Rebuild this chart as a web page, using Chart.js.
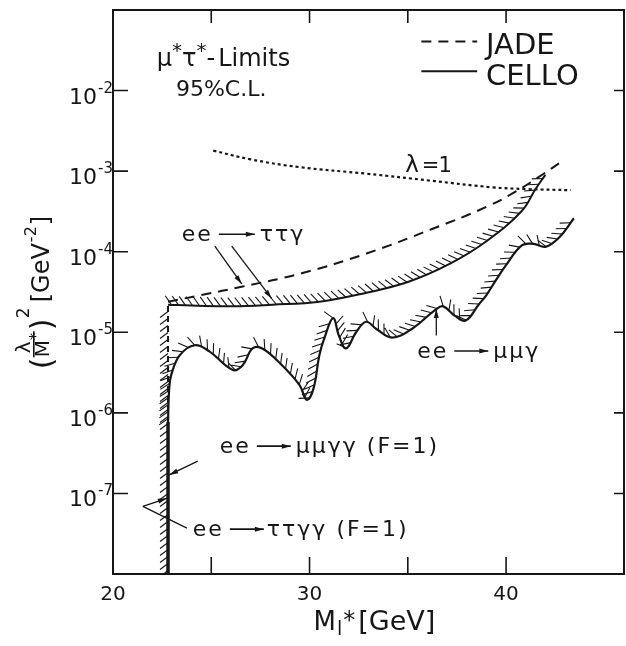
<!DOCTYPE html>
<html>
<head>
<meta charset="utf-8">
<script src="https://cdn.jsdelivr.net/npm/chart.js@4.4.1/dist/chart.umd.min.js"></script>
<style>
  body { margin: 0; background: #fff; }
  #wrap { width: 626px; height: 646px; position: relative; }
</style>
</head>
<body>
<div id="wrap"><canvas id="chart"></canvas></div>
<script>
// axis ticks
const massTicks = [20, 25, 30, 35, 40];
const massLabels = [20, 30, 40];
const topTicks = [25, 30, 35, 40];
const decadeExps = [-7, -6, -5, -4, -3, -2];

// lambda = 1 curve (dotted)
const lambdaMass = [25.1, 27.0, 29.5, 32.9, 36.2, 39.3, 41.0, 43.3];
const lambdaLimit = [1.8e-3, 1.4e-3, 1.12e-3, 9.3e-4, 7.6e-4, 6.3e-4, 6.0e-4, 5.8e-4];

// JADE ee -> tau tau gamma (dashed)
const jadeMass = [22.8, 24.5, 26.6, 29.6, 32.9, 36.2, 39.0, 40.5, 41.8, 42.8];
const jadeLimit = [2.4e-5, 2.9e-5, 3.7e-5, 5.4e-5, 9.5e-5, 1.9e-4, 3.6e-4, 5.6e-4, 8.9e-4, 1.3e-3];

// CELLO ee -> tau tau gamma (solid)
const celloTauMass = [22.8, 24.0, 26.1, 28.1, 30.5, 32.9, 35.0, 37.1, 39.0, 40.8, 41.5, 42.0];
const celloTauLimit = [2.2e-5, 2.15e-5, 2.1e-5, 2.2e-5, 2.4e-5, 3.1e-5, 4.2e-5, 7.0e-5, 1.35e-4, 3.2e-4, 6.0e-4, 9.0e-4];

// CELLO ee -> mu mu gamma (solid)
const celloMuMass = [22.8, 22.86, 22.97, 23.4, 24.16, 24.9, 26.1, 26.6, 27.1, 27.6, 28.6, 29.5, 29.86, 30.2,
  30.5, 30.76, 31.2, 31.5, 31.86, 32.37, 32.88, 33.4, 34.2, 35.2, 36.4, 36.8, 37.4, 37.95, 38.6, 39.0,
  39.5, 40.0, 40.8, 41.4, 42.0, 42.7, 43.45];
const celloMuLimit = [7.7e-7, 2e-6, 3e-6, 5.2e-6, 6.9e-6, 5.8e-6, 3.4e-6, 3.9e-6, 6.3e-6, 6.3e-6, 3.9e-6, 2.2e-6, 1.45e-6, 2e-6,
  5.2e-6, 8.5e-6, 1.5e-5, 9e-6, 6.3e-6, 1e-5, 1.35e-5, 1.1e-5, 8.6e-6, 1.1e-5, 1.9e-5, 2.1e-5, 1.6e-5, 1.4e-5, 2.2e-5, 2.9e-5,
  4.5e-5, 6.8e-5, 1.2e-4, 1.25e-4, 1.15e-4, 1.5e-4, 2.6e-4];

// F=1 limits (vertical edge)
const edgeMass = [22.8, 22.8, 22.8];
const edgeLimit = [1e-8, 7.7e-7, 2.2e-5];

const FONT = '"DejaVu Sans"';
const INK = '#161616';

const pts = (xs, ys) => xs.map((x, i) => ({ x, y: ys[i] }));

// hatch marks along the excluded side of a curve
const hatchPlugin = {
  id: 'hatch',
  afterDatasetsDraw(chart) {
    const ctx = chart.ctx, area = chart.chartArea;
    ctx.save();
    ctx.beginPath();
    ctx.rect(area.left, area.top, area.right - area.left, area.bottom - area.top);
    ctx.clip();
    chart.data.datasets.forEach((ds, i) => {
      if (!ds.hatch) return;
      const p = chart.getDatasetMeta(i).data;
      const poly = [];
      for (let k = 0; k < p.length - 1; k++) {
        const a = p[k], b = p[k + 1];
        const c1x = a.cp2x ?? a.x, c1y = a.cp2y ?? a.y;
        const c2x = b.cp1x ?? b.x, c2y = b.cp1y ?? b.y;
        for (let s = 0; s < 20; s++) {
          const t = s / 20, u = 1 - t;
          poly.push([
            u * u * u * a.x + 3 * u * u * t * c1x + 3 * u * t * t * c2x + t * t * t * b.x,
            u * u * u * a.y + 3 * u * u * t * c1y + 3 * u * t * t * c2y + t * t * t * b.y
          ]);
        }
      }
      poly.push([p[p.length - 1].x, p[p.length - 1].y]);
      const { spacing, length } = ds.hatch;
      ctx.beginPath();
      let next = spacing / 2, acc = 0;
      for (let k = 0; k < poly.length - 1; k++) {
        const [x0, y0] = poly[k], [x1, y1] = poly[k + 1];
        const d = Math.hypot(x1 - x0, y1 - y0);
        if (!d) continue;
        const tx = (x1 - x0) / d, ty = (y1 - y0) / d;
        const nx = ty, ny = -tx;
        while (next <= acc + d) {
          const f = (next - acc) / d;
          const px = x0 + (x1 - x0) * f, py = y0 + (y1 - y0) * f;
          ctx.moveTo(px, py);
          ctx.lineTo(px + length * (0.8 * nx - 0.6 * tx), py + length * (0.8 * ny - 0.6 * ty));
          next += spacing;
        }
        acc += d;
      }
      ctx.strokeStyle = INK;
      ctx.lineWidth = 1.1;
      ctx.stroke();
    });
    ctx.restore();
  }
};

function arrowHead(ctx, x0, y0, x1, y1, size) {
  const a = Math.atan2(y1 - y0, x1 - x0);
  ctx.beginPath();
  ctx.moveTo(x1, y1);
  ctx.lineTo(x1 - size * Math.cos(a) + 2.5 * Math.sin(a), y1 - size * Math.sin(a) - 2.5 * Math.cos(a));
  ctx.lineTo(x1 - size * Math.cos(a) - 2.5 * Math.sin(a), y1 - size * Math.sin(a) + 2.5 * Math.cos(a));
  ctx.closePath();
  ctx.fill();
}

function line(ctx, a, b, head) {
  ctx.beginPath();
  ctx.moveTo(a[0], a[1]);
  ctx.lineTo(b[0], b[1]);
  ctx.stroke();
  if (head) arrowHead(ctx, a[0], a[1], b[0], b[1], 9);
}

function drawParts(ctx, x, y, parts) {
  for (const p of parts) {
    if (p.arrow) {
      const ay = y - 7;
      line(ctx, [x, ay], [x + p.arrow, ay], true);
      x += p.arrow + (p.gap || 0);
      continue;
    }
    ctx.font = `${p.size || 22}px ${FONT}`;
    ctx.letterSpacing = (p.ls ?? 2) + 'px';
    ctx.fillText(p.t, x, y + (p.dy || 0));
    x += ctx.measureText(p.t).width + (p.gap || 0);
  }
  ctx.letterSpacing = '0px';
}

// annotation anchors in (mass, log10 value)
const textNotes = [
  { at: [22.23, -1.69], parts: [{ t: 'μ', size: 24, ls: 0 }, { t: '*', size: 20, dy: -9, ls: 0 }, { t: 'τ', size: 24, ls: 0 },
    { t: '*', size: 20, dy: -9, ls: 0 }, { t: '-', size: 24, ls: 0, gap: 3 }, { t: 'Limits', size: 24, ls: 0 }] },
  { at: [23.2, -2.07], parts: [{ t: '95%C.L.', size: 22, ls: 0 }] },
  { at: [34.87, -3.01], parts: [{ t: 'λ', size: 23, ls: 0, gap: 3 }, { t: '=1', size: 21, ls: -1 }] },
  { at: [23.5, -3.87], parts: [{ t: 'ee', gap: 6 }, { arrow: 36, gap: 5 }, { t: 'ττγ' }] },
  { at: [35.48, -5.32], parts: [{ t: 'ee', gap: 6 }, { arrow: 34, gap: 5 }, { t: 'μμγ' }] },
  { at: [25.43, -6.50], parts: [{ t: 'ee', gap: 6 }, { arrow: 34, gap: 5 }, { t: 'μμγγ (F=1)' }] },
  { at: [24.06, -7.53], parts: [{ t: 'ee', gap: 6 }, { arrow: 34, gap: 3 }, { t: 'ττγγ (F=1)' }] }
];
const pointerNotes = [
  { from: [25.18, -3.93], to: [26.55, -4.40], head: true },
  { from: [26.04, -3.93], to: [28.07, -4.58], head: true },
  { from: [36.45, -5.04], to: [36.45, -4.71], head: true },
  { from: [24.31, -6.60], to: [22.86, -6.77], head: true },
  { from: [23.76, -7.43], to: [21.52, -7.16], head: false },
  { from: [21.52, -7.16], to: [22.74, -7.06], head: true }
];
const legendNotes = [
  { label: 'JADE', series: 1, line: [35.69, 38.53, -1.39], text: [38.98, -1.54] },
  { label: 'CELLO', series: 2, line: [35.69, 38.53, -1.76], text: [38.98, -1.93] }
];
// inward tick mark length for each scale
const tickLen = { x: 17, x2: 13, y: 15, y2: 10 };

const notesPlugin = {
  id: 'notes',
  afterDraw(chart) {
    const ctx = chart.ctx, xs = chart.scales.x, ys = chart.scales.y, area = chart.chartArea;
    const P = (m, e) => [xs.getPixelForValue(m), ys.getPixelForValue(Math.pow(10, e))];
    ctx.save();
    ctx.fillStyle = INK;
    ctx.strokeStyle = INK;
    ctx.textBaseline = 'alphabetic';
    ctx.textAlign = 'left';

    // inward ticks on all four sides
    ctx.lineWidth = 1.6;
    ctx.beginPath();
    Object.keys(tickLen).forEach(id => {
      const s = chart.scales[id], L = tickLen[id];
      s.ticks.forEach(t => {
        const v = s.getPixelForValue(t.value);
        if (id === 'x') { ctx.moveTo(v, area.bottom); ctx.lineTo(v, area.bottom - L); }
        if (id === 'x2') { ctx.moveTo(v, area.top); ctx.lineTo(v, area.top + L); }
        if (id === 'y') { ctx.moveTo(area.left, v); ctx.lineTo(area.left + L, v); }
        if (id === 'y2') { ctx.moveTo(area.right, v); ctx.lineTo(area.right - L, v); }
      });
    });
    ctx.stroke();

    textNotes.forEach(n => { const [x, y] = P(n.at[0], n.at[1]); drawParts(ctx, x, y, n.parts); });
    ctx.lineWidth = 1.3;
    pointerNotes.forEach(n => line(ctx, P(n.from[0], n.from[1]), P(n.to[0], n.to[1]), n.head));

    legendNotes.forEach(n => {
      const ds = chart.data.datasets[n.series];
      const a = P(n.line[0], n.line[2]), b = P(n.line[1], n.line[2]);
      ctx.save();
      ctx.lineWidth = ds.borderWidth;
      ctx.setLineDash(ds.borderDash || []);
      ctx.beginPath(); ctx.moveTo(a[0], a[1]); ctx.lineTo(b[0], b[1]); ctx.stroke();
      ctx.restore();
      const t = P(n.text[0], n.text[1]);
      ctx.font = `29px ${FONT}`;
      ctx.fillText(n.label, t[0], t[1]);
    });

    // y tick labels 10^n
    decadeExps.forEach(e => {
      const y = ys.getPixelForValue(Math.pow(10, e));
      ctx.font = `22px ${FONT}`;
      ctx.textAlign = 'right';
      ctx.fillText('10', area.left - 16, y + 13);
      ctx.font = `15px ${FONT}`;
      ctx.textAlign = 'left';
      ctx.fillText('-' + (-e), area.left - 15, y + 2);
    });

    // x title  M_l* [GeV]
    let x = xs.getPixelForValue(30.2), yb = area.bottom + 56;
    ctx.font = `26px ${FONT}`; ctx.fillText('M', x, yb); x += ctx.measureText('M').width + 1;
    ctx.font = `19px ${FONT}`; ctx.fillText('l', x, yb + 5); x += ctx.measureText('l').width + 1;
    ctx.font = `24px ${FONT}`; ctx.fillText('*', x, yb - 2); x += ctx.measureText('*').width + 3;
    ctx.font = `27px ${FONT}`; ctx.fillText('[GeV]', x, yb);

    // y title (lambda / M_l*)^2 [GeV^-2], rotated
    ctx.translate(49, ys.getPixelForValue(1e-5) + 38);
    ctx.rotate(-Math.PI / 2);
    ctx.font = `30px ${FONT}`; ctx.fillText('(', 1, 3);
    ctx.font = `20px ${FONT}`; ctx.fillText('λ', 17, -19);
    ctx.fillRect(13, -16, 26, 1.6);
    ctx.font = `20px ${FONT}`; ctx.fillText('M', 13, 0);
    ctx.font = `15px ${FONT}`; ctx.fillText('*', 30, -8);
    ctx.font = `30px ${FONT}`; ctx.fillText(')', 40, 3);
    ctx.font = `17px ${FONT}`; ctx.fillText('2', 52, -20);
    ctx.font = `24px ${FONT}`; ctx.fillText('[GeV', 68, 0);
    let w = 68 + ctx.measureText('[GeV').width + 1;
    ctx.font = `16px ${FONT}`; ctx.fillText('-2', w, -13);
    w += ctx.measureText('-2').width + 1;
    ctx.font = `24px ${FONT}`; ctx.fillText(']', w, 0);
    ctx.restore();
  }
};

const axisBorder = { color: INK, width: 2 };
const noGrid = { display: false, drawTicks: false };

new Chart(document.getElementById('chart'), {
  type: 'scatter',
  data: {
    datasets: [
      { label: 'λ=1', data: pts(lambdaMass, lambdaLimit), showLine: true, borderColor: INK, borderWidth: 2.2,
        borderDash: [3, 3], pointRadius: 0, tension: 0.4 },
      { label: 'JADE', data: pts(jadeMass, jadeLimit), showLine: true, borderColor: INK, borderWidth: 2,
        borderDash: [10, 7], pointRadius: 0, tension: 0.4 },
      { label: 'CELLO', data: pts(celloTauMass, celloTauLimit), showLine: true, borderColor: INK, borderWidth: 2,
        pointRadius: 0, tension: 0.4, hatch: { spacing: 7, length: 11 } },
      { label: 'CELLO μμγ', data: pts(celloMuMass, celloMuLimit), showLine: true, borderColor: INK, borderWidth: 2.2,
        pointRadius: 0, tension: 0.4, hatch: { spacing: 7, length: 11 } },
      { label: 'F=1', data: pts(edgeMass, edgeLimit), showLine: true, borderColor: INK, borderWidth: 3,
        pointRadius: 0, tension: 0, hatch: { spacing: 7, length: 10 },
        segment: {
          borderDash: c => c.p0DataIndex === 1 ? [6, 4] : [],
          borderWidth: c => c.p0DataIndex === 1 ? 2 : 3.5
        } }
    ]
  },
  options: {
    responsive: true,
    maintainAspectRatio: false,
    animation: false,
    layout: { padding: 0 },
    plugins: { legend: { display: false }, tooltip: { enabled: false } },
    scales: {
      x: {
        type: 'linear', position: 'bottom', min: 20, max: 46,
        afterBuildTicks: s => { s.ticks = massTicks.map(v => ({ value: v })); },
        afterFit: s => { s.height = 72; },
        ticks: { callback: v => massLabels.includes(v) ? String(v) : '', color: INK, font: { family: 'DejaVu Sans', size: 20 },
          padding: 9, maxRotation: 0, autoSkip: false },
        grid: noGrid,
        border: axisBorder
      },
      x2: {
        type: 'linear', position: 'top', min: 20, max: 46,
        afterBuildTicks: s => { s.ticks = topTicks.map(v => ({ value: v })); },
        afterFit: s => { s.height = 10; },
        ticks: { display: false },
        grid: noGrid,
        border: axisBorder
      },
      y: {
        type: 'logarithmic', position: 'left', min: 1e-8, max: 1e-1,
        afterBuildTicks: s => { s.ticks = decadeExps.map(e => ({ value: Math.pow(10, e) })); },
        afterFit: s => { s.width = 113; },
        ticks: { display: false },
        grid: noGrid,
        border: axisBorder
      },
      y2: {
        type: 'logarithmic', position: 'right', min: 1e-8, max: 1e-1,
        afterBuildTicks: s => { s.ticks = decadeExps.map(e => ({ value: Math.pow(10, e) })); },
        afterFit: s => { s.width = 2; },
        ticks: { display: false },
        grid: noGrid,
        border: axisBorder
      }
    }
  },
  plugins: [hatchPlugin, notesPlugin]
});
</script>
</body>
</html>
